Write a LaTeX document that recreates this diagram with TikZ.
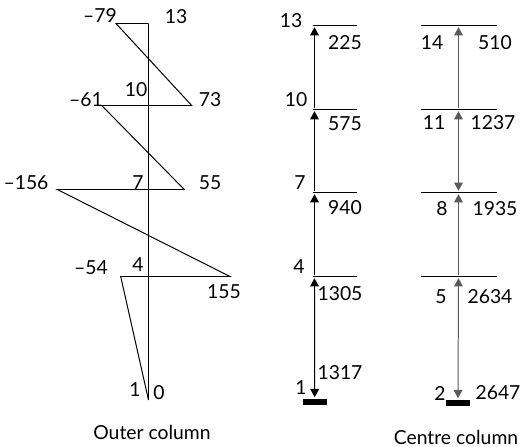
\documentclass[tikz,border=0pt]{standalone}
\usepackage{fontspec}
\setmainfont{Lato}
\usepackage{tikz}
\usetikzlibrary{arrows.meta,positioning}
\definecolor{arrgray}{RGB}{90,90,90}

\tikzset{
  lbl/.style={font=\fontsize{16.5}{19}\selectfont, inner sep=0pt},
  conn/.style={line width=0.85pt},
  uparr/.style={conn, -{Triangle[width=7.5pt,length=7pt]}, shorten >=1.5pt, shorten <=1.5pt},
  bothar/.style={conn, {Triangle[width=7.5pt,length=7pt]}-{Triangle[width=7.5pt,length=7pt]}, shorten >=1.5pt, shorten <=1.5pt},
  bar/.style={fill=black, inner sep=0pt, minimum width=0.72cm, minimum height=0.17cm},
}

\begin{document}
\begin{tikzpicture}[x=0.03cm, y=-0.03cm]
  \useasboundingbox (0,0) rectangle (525,447);

  % outer column: spine and zig-zag
  \coordinate (otop) at (148.5,23.5);
  \coordinate (obot) at (148.5,400);
  \coordinate (m79) at (116,23.5);
  \coordinate (p73) at (191.7,105.5);
  \coordinate (m61) at (101.7,105.5);
  \coordinate (p55) at (184.3,189.5);
  \coordinate (m156) at (57.3,189.5);
  \coordinate (p155) at (230,276.5);
  \coordinate (m54) at (120.7,276.5);
  \draw[conn] (obot) -- (otop);
  \draw[conn] (otop) -- (m79) -- (p73) -- (m61) -- (p55) -- (m156) -- (p155) -- (m54) -- (obot);
  \node[lbl] (o-79) at (100,15) {--79};
  \node[lbl] (o13) at (176,17) {13};
  \node[lbl] (o10) at (136,90) {10};
  \node[lbl] (o73) at (210,100) {73};
  \node[lbl] (o-61) at (86,100) {--61};
  \node[lbl] (o-156) at (26,183) {--156};
  \node[lbl] (o7) at (138,183) {7};
  \node[lbl] (o55) at (210,183) {55};
  \node[lbl] (o-54) at (91,268) {--54};
  \node[lbl] (o4) at (138,265) {4};
  \node[lbl] (o155) at (224,292) {155};
  \node[lbl] (o1) at (135,390) {1};
  \node[lbl] (o0) at (159,393) {0};
  \node[lbl] (outer) at (152,432) {Outer column};

  % middle column levels
  \foreach \y/\n in {25.5/13,109.5/10,192.5/7,276.5/4} {
    \coordinate (ml\n) at (313,\y);
    \coordinate (mr\n) at (357,\y);
    \coordinate (ma\n) at (314.5,\y);
    \draw[conn] (ml\n) -- (mr\n);
  }
  \node[bar] (mbar) at (314.7,402) {};
  \draw[uparr] (ma10) -- (ma13);
  \draw[uparr] (ma7) -- (ma10);
  \draw[uparr] (ma4) -- (ma7);
  \draw[bothar] (ma4) -- (mbar.north);
  \node[lbl] (m13) at (291,21) {13};
  \node[lbl] (m225) at (345,43) {225};
  \node[lbl] (m10) at (296,100) {10};
  \node[lbl] (m575) at (345,124) {575};
  \node[lbl] (m7) at (300,183) {7};
  \node[lbl] (m940) at (345,208) {940};
  \node[lbl] (m4) at (299,267) {4};
  \node[lbl] (m1305) at (340,294) {1305};
  \node[lbl] (m1317) at (340,373) {1317};
  \node[lbl] (m1) at (301,388) {1};

  % centre column levels
  \foreach \y/\n in {25.5/14,109.5/11,192.5/8,276.5/5} {
    \coordinate (cl\n) at (421,\y);
    \coordinate (cr\n) at (497,\y);
    \coordinate (ca\n) at (458.5,\y);
    \draw[conn] (cl\n) -- (cr\n);
  }
  \node[bar] (cbar) at (458,403) {};
  \draw[uparr, arrgray] (ca11) -- (ca14);
  \draw[bothar, arrgray] (ca8) -- (ca11);
  \draw[uparr, arrgray] (ca5) -- (ca8);
  \draw[bothar, arrgray] (ca5) -- (cbar.north);
  \node[lbl] (c14) at (432,43) {14};
  \node[lbl] (c510) at (495,43) {510};
  \node[lbl] (c11) at (434,123) {11};
  \node[lbl] (c1237) at (493,123) {1237};
  \node[lbl] (c8) at (442,209) {8};
  \node[lbl] (c1935) at (495,209) {1935};
  \node[lbl] (c5) at (441,297) {5};
  \node[lbl] (c2634) at (490,297) {2634};
  \node[lbl] (c2) at (440,393) {2};
  \node[lbl] (c2647) at (498,393) {2647};
  \node[lbl] (centre) at (456,437) {Centre column};
\end{tikzpicture}
\end{document}
